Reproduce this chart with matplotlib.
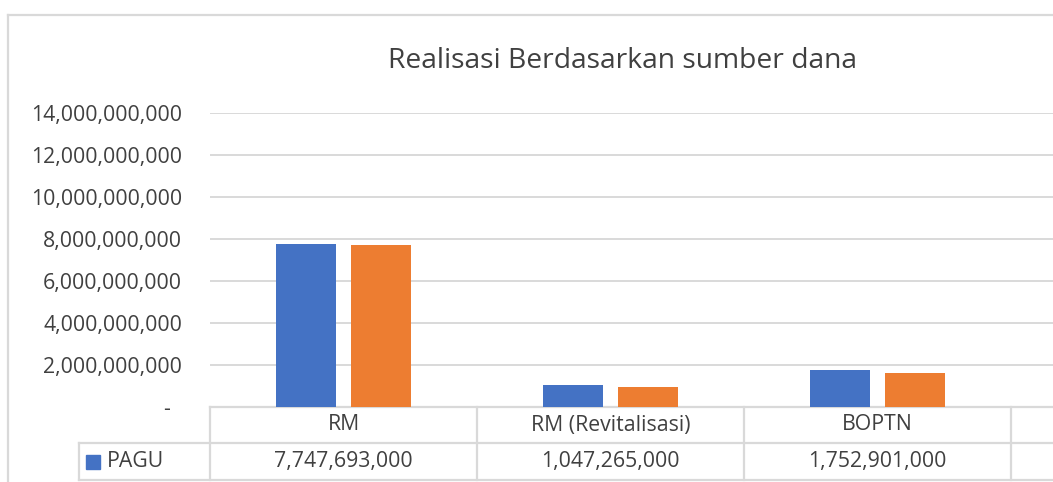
import matplotlib.pyplot as plt
from matplotlib.lines import Line2D
from matplotlib.ticker import FuncFormatter

categories = ['RM', 'RM (Revitalisasi)', 'BOPTN']
pagu = [7747693000, 1047265000, 1752901000]
realisasi = [7730000000, 940000000, 1600000000]
yticks = [0, 2e9, 4e9, 6e9, 8e9, 10e9, 12e9, 14e9]

plt.rcParams['font.family'] = ['Open Sans', 'DejaVu Sans']
text_col = '#404040'
grid_col = '#d9d9d9'
blue = '#4472C4'
orange = '#ED7D31'
fs = 15.3

fig = plt.figure(figsize=(10.53, 4.82), dpi=100)
W, H = 1053, 482
# plot area runs past the right edge (chart is cropped)
ax = fig.add_axes([210 / W, 75 / H, 1068 / W, 294 / H])

x = list(range(len(categories)))
bw = 0.225
off = 0.142
ax.bar([i - off for i in x], pagu, width=bw, color=blue, zorder=3)
ax.bar([i + off for i in x], realisasi, width=bw, color=orange, zorder=3)

ax.set_xlim(-0.5, 3.5)
ax.set_ylim(0, 14e9)
ax.set_yticks(yticks)
ax.yaxis.set_major_formatter(FuncFormatter(lambda v, p: '-  ' if v == 0 else f'{v:,.0f}'))
ax.tick_params(axis='y', length=0, pad=20, labelsize=fs, labelcolor=text_col)
ax.set_xticks([])
ax.yaxis.grid(True, color=grid_col, lw=1.4)
ax.set_axisbelow(True)
for s in ax.spines.values():
    s.set_visible(False)

# data table under the axis
tr = ax.get_xaxis_transform()
r1 = -36 / 294
r2 = -73 / 294
key_left = -0.5 - 131 / 267
lk = dict(color=grid_col, lw=1.6, transform=tr, clip_on=False)
ax.plot([-0.5, 3.5], [0, 0], **lk)
ax.plot([key_left, 3.5], [r1, r1], **lk)
ax.plot([key_left, 3.5], [r2, r2], **lk)
for b in [-0.5, 0.5, 1.5, 2.5, 3.5]:
    ax.plot([b, b], [0, r2], **lk)
ax.plot([key_left, key_left], [r1, r2], **lk)

for i, c in enumerate(categories):
    ax.text(i, r1 / 2, c, transform=tr, ha='center', va='center',
            fontsize=fs, color=text_col, clip_on=False)
    ax.text(i, (r1 + r2) / 2, f'{pagu[i]:,}', transform=tr, ha='center',
            va='center', fontsize=fs, color=text_col, clip_on=False)

# legend key in the table
ax.plot([key_left + 14.5 / 267], [(r1 + r2) / 2], marker='s', ms=10,
        color=blue, transform=tr, clip_on=False)
ax.text(key_left + 28 / 267, (r1 + r2) / 2, 'PAGU', transform=tr,
        ha='left', va='center', fontsize=fs, color=text_col, clip_on=False)

fig.text(623 / W, 1 - 61 / H, 'Realisasi Berdasarkan sumber dana',
         ha='center', va='center', fontsize=20.3, color=text_col)

# chart area border (cropped)
fig.add_artist(Line2D([8 / W, 1], [1 - 15 / H, 1 - 15 / H], color=grid_col, lw=1.6))
fig.add_artist(Line2D([8 / W, 8 / W], [0, 1 - 15 / H], color=grid_col, lw=1.6))

fig.savefig('out.png', dpi=100)
